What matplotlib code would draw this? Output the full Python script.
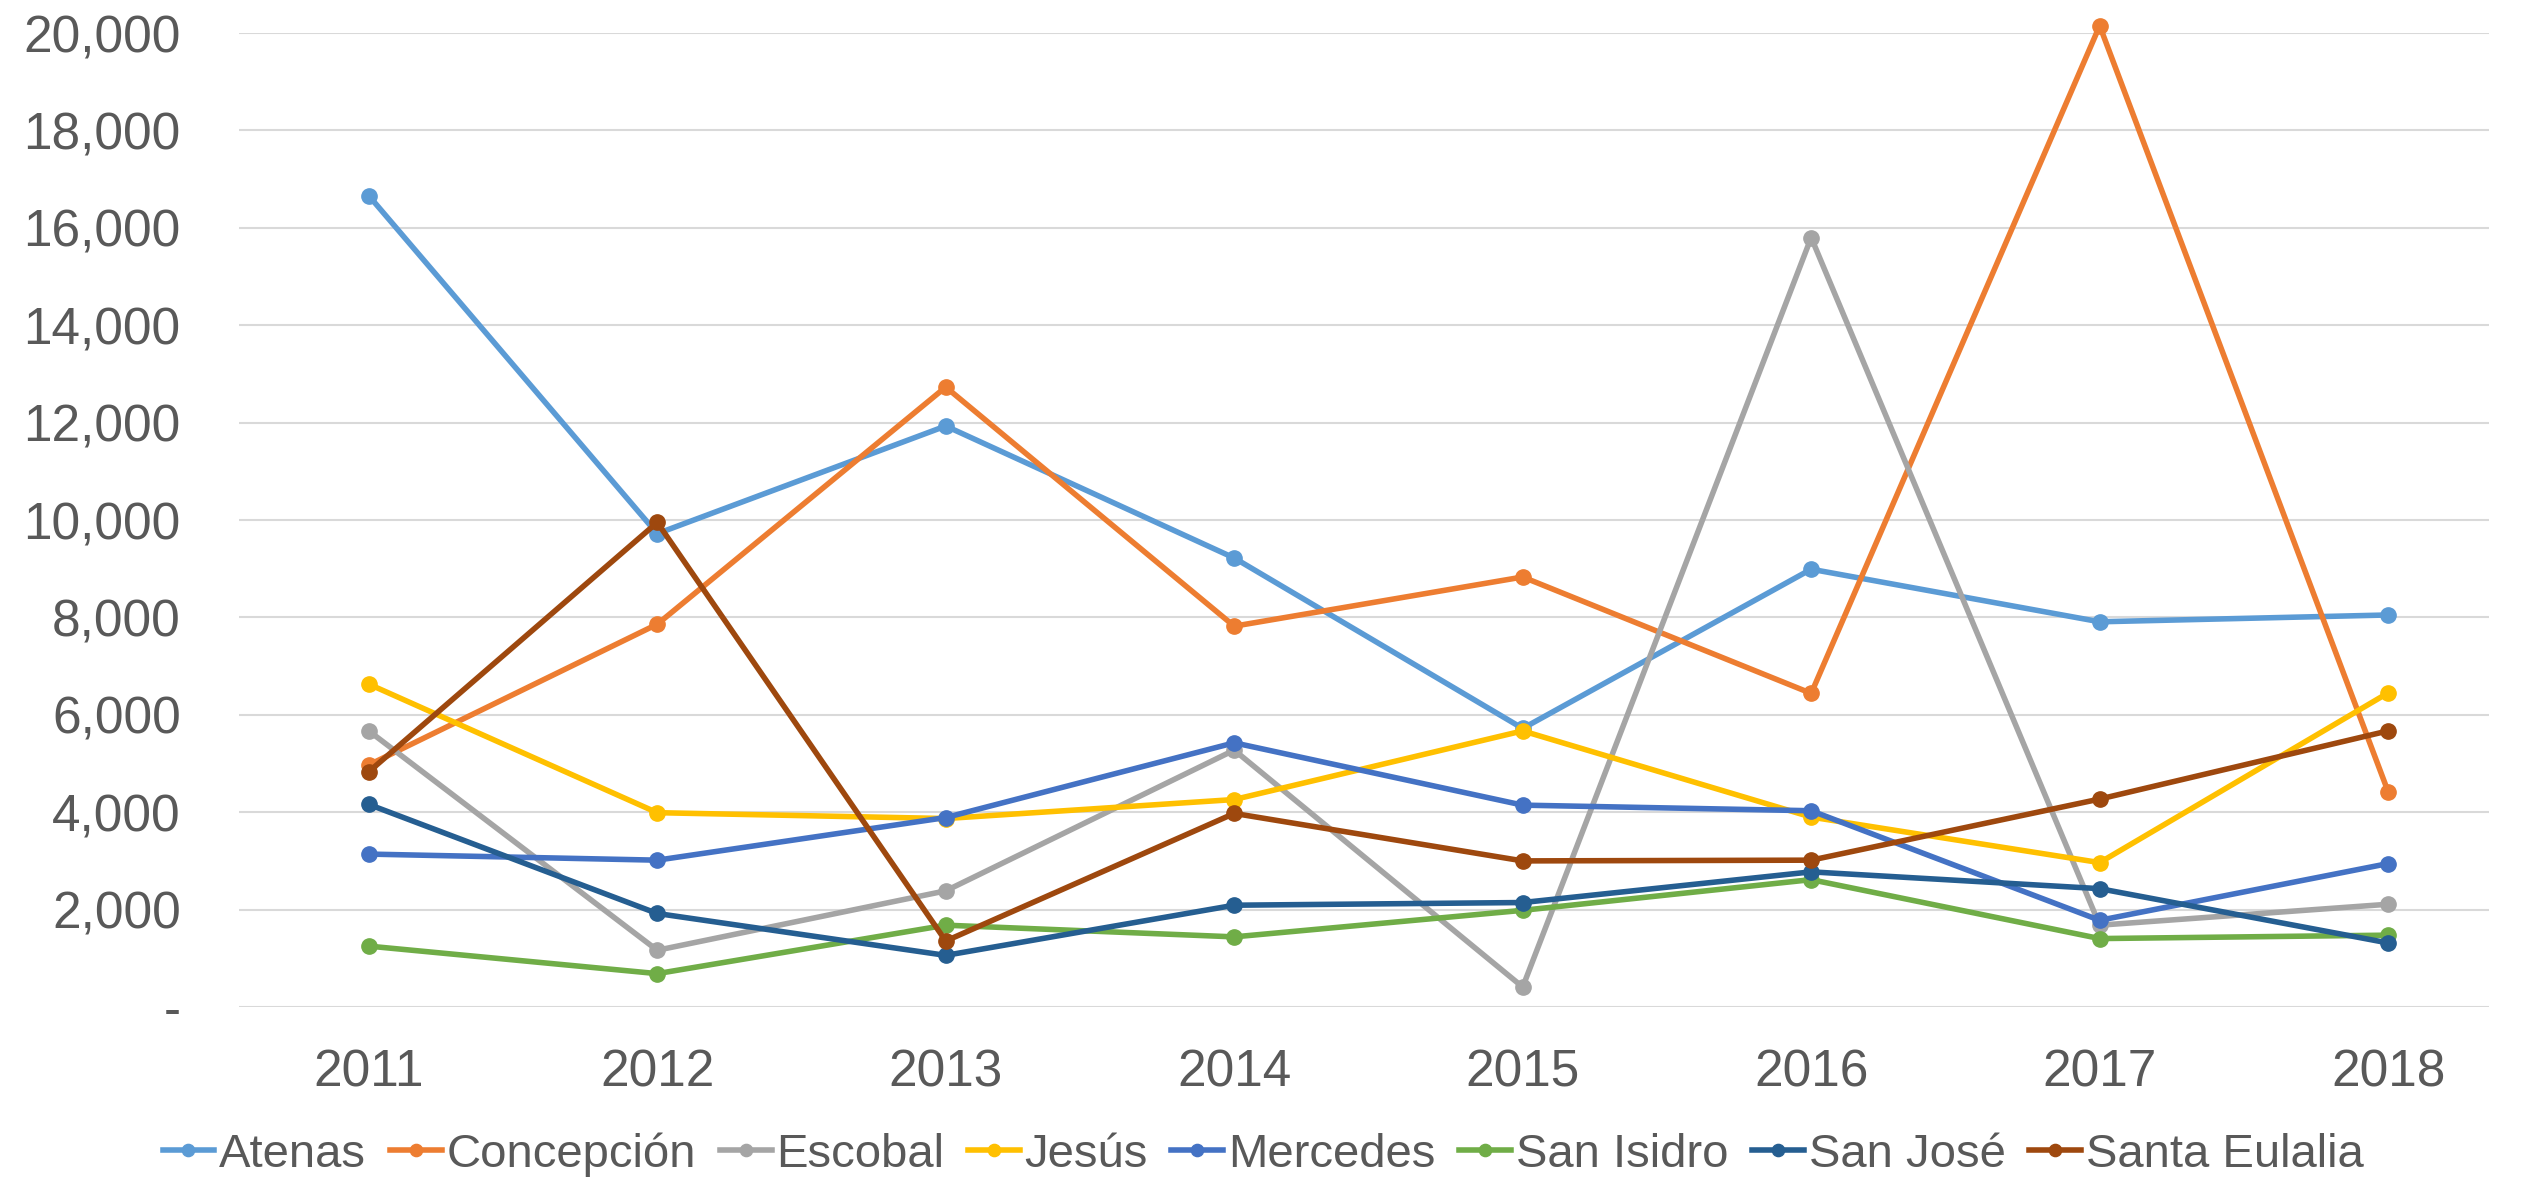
import matplotlib
matplotlib.use("Agg")
import matplotlib.pyplot as plt
import matplotlib.ticker as ticker

# datos
years = ["2011", "2012", "2013", "2014", "2015", "2016", "2017", "2018"]

atenas = [16660, 9720, 11930, 9220, 5720, 8990, 7910, 8050]
concepcion = [4970, 7860, 12730, 7820, 8830, 6440, 20150, 4420]
escobal = [5670, 1165, 2385, 5275, 410, 15800, 1680, 2110]
jesus = [6630, 3990, 3870, 4260, 5670, 3900, 2965, 6450]
mercedes = [3140, 3015, 3890, 5425, 4145, 4030, 1780, 2945]
san_isidro = [1250, 685, 1680, 1440, 1985, 2615, 1405, 1475]
san_jose = [4160, 1920, 1060, 2090, 2145, 2775, 2430, 1315]
santa_eulalia = [4830, 9950, 1355, 3975, 3000, 3015, 4270, 5670]

series = [
    ("Atenas", atenas, "#5B9BD5"),
    ("Concepción", concepcion, "#ED7D31"),
    ("Escobal", escobal, "#A5A5A5"),
    ("Jesús", jesus, "#FFC000"),
    ("Mercedes", mercedes, "#4472C4"),
    ("San Isidro", san_isidro, "#70AD47"),
    ("San José", san_jose, "#255E91"),
    ("Santa Eulalia", santa_eulalia, "#9E480E"),
]

plt.rcParams['font.family'] = ['Liberation Sans', 'DejaVu Sans']

fig = plt.figure(figsize=(25.26, 11.84), dpi=100)
ax = fig.add_axes([0.0946, 0.1495, 0.8908, 0.8226])

x = list(range(len(years)))
for name, vals, col in series:
    ax.plot(x, vals, color=col, lw=4, marker="o", markersize=11,
            label=name, clip_on=False, solid_joinstyle="round")

ax.set_ylim(0, 20000)
ax.set_xlim(-0.45, 7.35)
ax.set_yticks(range(0, 20001, 2000))
ax.yaxis.set_major_formatter(ticker.FuncFormatter(
    lambda v, p: "-" if v == 0 else "{:,.0f}".format(v)))
ax.set_xticks(x)
ax.set_xticklabels(years)

ax.grid(axis="y", color="#D9D9D9", lw=1.5)
ax.set_axisbelow(True)
for s in ax.spines.values():
    s.set_visible(False)
ax.tick_params(axis="both", length=0, labelsize=37, colors="#595959")
ax.tick_params(axis="y", pad=42)
ax.tick_params(axis="x", pad=30)

fig.legend(loc="center", bbox_to_anchor=(0.5, 0.025), ncol=8, frameon=False,
           fontsize=34, handlelength=1.1, handletextpad=0.1,
           columnspacing=0.5, labelcolor="#595959", markerscale=0.8)

fig.savefig("out.png", dpi=100)
